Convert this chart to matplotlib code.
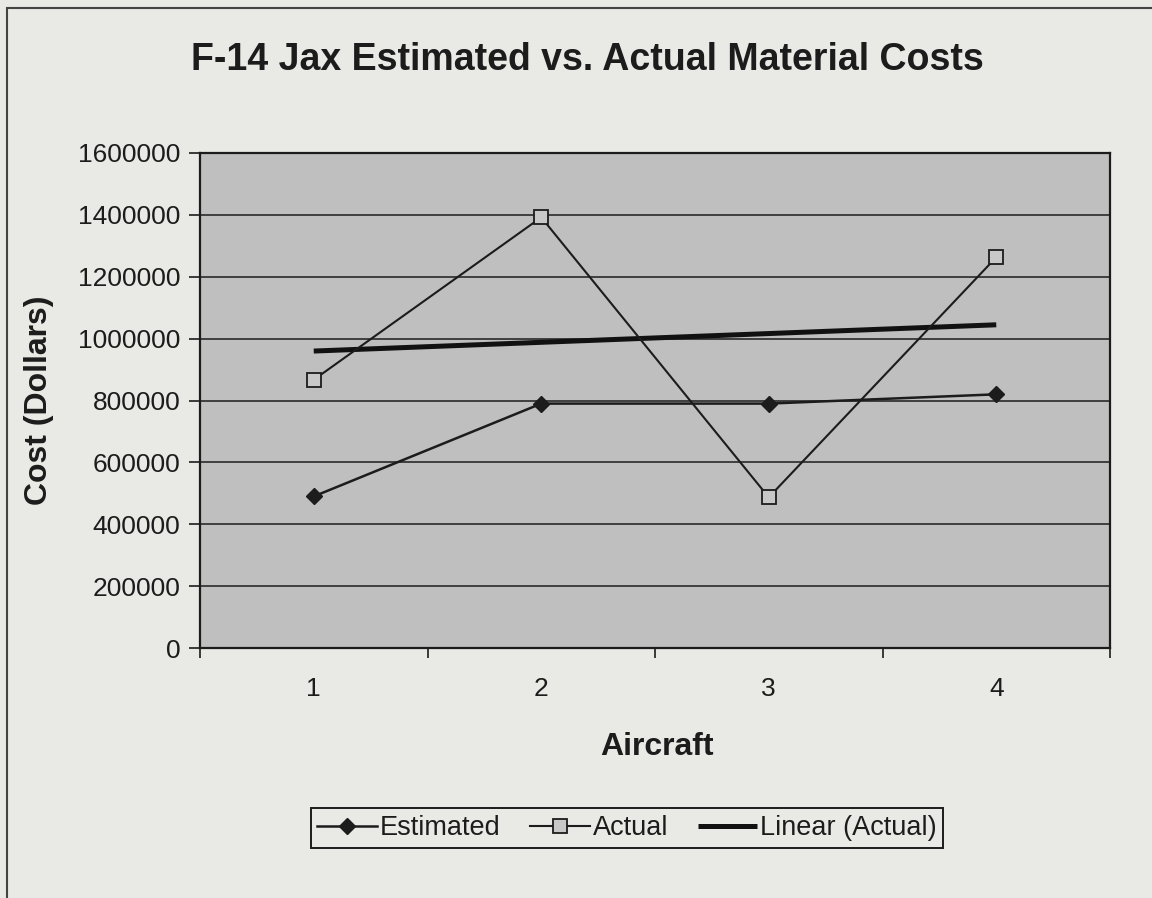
# -*- coding: utf-8 -*-

"""
F-14 Jax estimated vs. actual material costs, with a linear trend on the actuals
"""

import matplotlib
matplotlib.use('Agg')
import matplotlib.pyplot as plt
import numpy as np
from matplotlib.patches import Rectangle
from matplotlib.ticker import FixedLocator, FuncFormatter

aircraft = [1, 2, 3, 4]
estimated = [490000, 790000, 790000, 820000]
actual = [867000, 1392000, 487000, 1263000]

title = 'F-14 Jax Estimated vs. Actual Material Costs'
x_label = 'Aircraft'
y_label = 'Cost (Dollars)'
y_ticks = [0, 200000, 400000, 600000, 800000, 1000000, 1200000, 1400000, 1600000]

bg = '#e9e9e5'
plot_bg = '#bfbfbf'
ink = '#1c1c1c'

W, H = 1152, 898
fig = plt.figure(figsize=(W / 100, H / 100), dpi=100, facecolor=bg)

# plot area in pixel coordinates, converted to figure fractions
left, right, top, bottom = 200, 1110, 153, 648
ax = fig.add_axes([left / W, 1 - bottom / H, (right - left) / W, (bottom - top) / H])
ax.set_facecolor(plot_bg)

x = np.array(aircraft)

# linear trend of the actual costs (Excel "Linear (Actual)")
slope, icpt = np.polyfit(x, actual, 1)
trend = slope * x + icpt

ax.plot(x, estimated, color=ink, lw=1.8, marker='D', ms=8.5,
        mfc=ink, mec=ink, label='Estimated', zorder=4)
ax.plot(x, actual, color=ink, lw=1.5, marker='s', ms=10,
        mfc='#c8c8c8', mec=ink, mew=1.3, label='Actual', zorder=4)
ax.plot(x, trend, color='#111111', lw=3.6, solid_capstyle='butt',
        label='Linear (Actual)', zorder=3)

ax.set_xlim(0.5, 4.5)
ax.set_ylim(0, 1600000)

# category axis: labels on the categories, tick marks between them
ax.xaxis.set_major_locator(FixedLocator(aircraft))
ax.xaxis.set_minor_locator(FixedLocator(np.arange(0.5, 5.0, 1.0)))
ax.tick_params(axis='x', which='major', length=0, pad=21)
ax.tick_params(axis='x', which='minor', length=7, width=1.2, color=ink, direction='out')

ax.yaxis.set_major_locator(FixedLocator(y_ticks))
ax.yaxis.set_major_formatter(FuncFormatter(lambda v, p: '%d' % v))
ax.tick_params(axis='y', length=8, width=1.2, color=ink, direction='out', pad=6)

for lab in ax.get_xticklabels() + ax.get_yticklabels():
    lab.set_fontfamily('Liberation Sans')
    lab.set_fontsize(19)
    lab.set_color(ink)

ax.grid(axis='y', color='#2a2a2a', lw=1.2)
ax.set_axisbelow(True)
for s in ax.spines.values():
    s.set_color(ink)
    s.set_linewidth(1.6)

# title and axis titles
fig.text(587 / W, 1 - 70 / H, title, ha='center', va='baseline',
         fontsize=27, fontweight='bold', family='Liberation Sans', color=ink)
fig.text(657 / W, 1 - 755 / H, x_label, ha='center', va='baseline',
         fontsize=23, fontweight='bold', family='Liberation Sans', color=ink)
fig.text(39 / W, 1 - 400 / H, y_label, ha='center', va='center', rotation=90,
         fontsize=23, fontweight='bold', family='Liberation Sans', color=ink)

leg = fig.legend(loc='center', bbox_to_anchor=(627 / W, 1 - 828 / H), ncol=3,
                 frameon=True, fancybox=False, facecolor=bg, edgecolor=ink,
                 framealpha=1, borderpad=0.25, handlelength=2.2,
                 handletextpad=0.1, columnspacing=1.1, borderaxespad=0,
                 prop={'family': 'Liberation Sans', 'size': 19.5})
leg.get_frame().set_linewidth(1.4)
for t in leg.get_texts():
    t.set_color(ink)

# outer chart border (only the left and top edges are in the scan)
fig.add_artist(Rectangle((7 / W, -0.05), 1.2, 1 - 8 / H + 0.05,
                         transform=fig.transFigure, fill=False,
                         edgecolor='#444444', lw=1.5))

fig.savefig('out.png', dpi=100, facecolor=bg)
